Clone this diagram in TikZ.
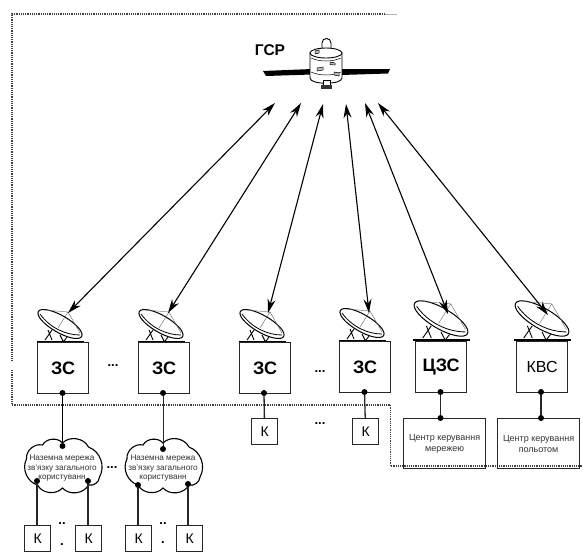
\documentclass[tikz,border=0pt]{standalone}
\usepackage{fontspec}
\setmainfont{Liberation Sans}
\usetikzlibrary{arrows.meta}
\tikzset{
  x=1pt,y=-1pt,
  boxn/.style={draw=black!85,line width=1.2pt,inner sep=0pt,anchor=north west,align=center},
  bigbox/.style={boxn,minimum width=51pt,minimum height=51pt,font=\bfseries\fontsize{18}{18}\selectfont},
  kbox/.style={boxn,minimum width=26pt,minimum height=26pt,font=\fontsize{14}{14}\selectfont},
  ctr/.style={boxn,minimum width=82pt,minimum height=50pt,font=\fontsize{9}{11}\selectfont,text=black!80},
  pt/.style={circle,fill=black,inner sep=0pt,minimum size=6pt},
  wire/.style={line width=1.3pt,draw=black!85},
  fence/.style={line width=1.3pt,dash pattern=on 1.2pt off 1pt,draw=black!75},
  link/.style={line width=1.1pt,{Stealth[length=14pt,width=8pt]}-{Stealth[length=14pt,width=8pt]}},
  cloudt/.style={align=center,font=\fontsize{8.2}{9.5}\selectfont,inner sep=0pt,text=black!80},
  dots/.style={font=\bfseries\fontsize{13}{13}\selectfont,inner sep=0pt},
  cloudshape/.pic={
    \draw[line width=1.1pt,fill=white] (-36,-8) to[bend left=55] (-20,-22) to[bend left=55] (0,-24)
      to[bend left=55] (26,-20) to[bend left=50] (37,10) to[bend left=50] (26,18)
      to[bend left=55] (0,21) to[bend left=55] (-25,18) to[bend left=50] cycle;
  },
  dish/.pic={
    \draw[line width=.9pt] (-12,6) -- (-8,16) (-8,6) -- (-15,16) (0,11) -- (3,17) (7,13) -- (4,17);
    \draw[line width=1pt,fill=white] (0,0) ellipse [x radius=25,y radius=8.5,rotate=-30];
    \draw[line width=.8pt] (-20,-10) .. controls (-10,4) and (6,11) .. (20,11);
    \draw[line width=.4pt,draw=black!60] (-16,-14) -- (8,-12) -- (20,9) (8,-12) -- (-2,4);
    \draw[line width=2pt] (-23,17.5) -- (24,17.5);
  }
}
\begin{document}
\begin{tikzpicture}
\useasboundingbox (0,0) rectangle (583,552);
\fill[white] (0,0) rectangle (583,552);
% fence
\coordinate (f0) at (397,14); \coordinate (f1) at (385,14); \coordinate (f2) at (12,14);
\coordinate (f2a) at (12,361); \coordinate (f2b) at (12,370); \coordinate (f3) at (12,405);
\coordinate (f4) at (390.5,405); \coordinate (f5) at (390.5,466); \coordinate (f6) at (583,466);
\draw[fence] (f1) -- (f2) -- (f2a);
\draw[fence] (f2b) -- (f3) -- (f4) -- (f5) -- (f6);
\draw[line width=.6pt,draw=black!30] (f0) -- (f1);
% dishes
\pic at (60,324) {dish};
\pic at (161,324) {dish};
\pic at (262,324) {dish};
\pic at (362,323) {dish};
\pic[scale=1.22] at (441,318.5) {dish};
\pic[scale=1.22] at (542,318.5) {dish};
% boxes
\node[bigbox] (b1) at (37,342) {ЗС};
\node[bigbox] (b2) at (138,342) {ЗС};
\node[bigbox] (b3) at (239,342) {ЗС};
\node[bigbox] (b4) at (339,341) {ЗС};
\node[bigbox] (b5) at (415,341) {ЦЗС};
\node[bigbox,font=\fontsize{16}{16}\selectfont] (b6) at (516,341) {КВС};
% satellite
\fill[black] (263,71) -- (312,69) -- (312,74.5) -- (266,76) -- cycle;
\fill[black] (341,69) -- (390,69) -- (388,73.5) -- (341,75) -- cycle;
\draw[line width=.9pt,fill=white] (322,50) -- (322,43) .. controls (322,37) and (331,37) .. (331,43) -- (331,50);
\draw[line width=.9pt,fill=white] (310,53) -- (310,78) .. controls (310,85) and (342,85) .. (342,78) -- (342,53);
\draw[line width=.9pt,fill=white] (326,53) ellipse [x radius=16,y radius=5];
\draw[line width=.5pt] (311,58) .. controls (320,62) and (332,62) .. (341,58);
\draw[line width=.5pt] (311,72) .. controls (320,76) and (332,76) .. (341,72);
\draw[line width=.5pt,fill=black!25] (315,51) -- (319,50) -- (319,53) -- (315,54) -- cycle;
\draw[line width=.5pt,fill=black!25] (317,68) -- (323,67) -- (323,70) -- (317,71) -- cycle;
\draw[line width=.5pt,fill=black!25] (330,62) -- (335,63) -- (335,65) -- (330,64.5) -- cycle;
\draw[line width=.5pt,fill=black!25] (334,72) -- (339,73) -- (339,76) -- (334,75) -- cycle;
\draw[line width=.8pt,fill=white] (323,80) rectangle (330,85);
\fill[black!80] (321,85) rectangle (332,88.5);
\node[inner sep=0pt,font=\bfseries\fontsize{15.5}{16}\selectfont] (gsr) at (270,50) {ГСР};
% links
\coordinate (s1) at (275,103); \coordinate (s2) at (301,103); \coordinate (s3) at (323,104);
\coordinate (s4) at (346,104); \coordinate (s5) at (365,103); \coordinate (s6) at (378,103);
\coordinate (d1) at (68,313); \coordinate (d2) at (168,313); \coordinate (d3) at (268,313);
\coordinate (d4) at (369,313); \coordinate (d5) at (448,314); \coordinate (d6) at (548,315);
\foreach \i in {1,...,6} \draw[link] (d\i) -- (s\i);
% clouds
\pic at (62.5,467) {cloudshape};
\pic at (163,467) {cloudshape};
\node[cloudt] (t1) at (62,468.5) {Наземна мережа\\зв'язку загального\\користуванн};
\node[cloudt] (t2) at (163,468.5) {Наземна мережа\\зв'язку загального\\користуванн};
% K
\node[kbox] (k3) at (251,418) {К};
\node[kbox] (k4) at (352,418) {К};
\node[kbox] (ka) at (24,525) {К};
\node[kbox] (kb) at (75,525) {К};
\node[kbox] (kc) at (125,525) {К};
\node[kbox] (kd) at (176,525) {К};
% centres
\node[ctr] (m1) at (403,418) {Центр керування\\мережею};
\node[ctr] (m2) at (497,418) {Центр керування\\польотом};
% wires
\node[pt] (p1) at (62.5,393) {};
\node[pt] (p2) at (163,393) {};
\node[pt] (p3) at (264,393) {};
\node[pt] (p4) at (364.5,392) {};
\node[pt] (p5) at (440.5,392) {};
\node[pt] (p6) at (541,392) {};
\node[pt] (q5) at (440.5,418) {};
\node[pt] (q6) at (541,418) {};
\node[pt] (r1) at (62.5,446) {};
\node[pt] (r2) at (163,449) {};
\node[pt] (ra) at (37,481) {};
\node[pt] (rb) at (88,481) {};
\node[pt] (rc) at (138,485) {};
\node[pt] (rd) at (188,484) {};
\draw[line width=.5pt] (p1) -- (r1);
\draw[wire,line width=.8pt] (p2) -- (r2);
\draw[wire] (p3) -- (k3);
\draw[wire] (p4) -- (k4);
\draw[wire] (p5) -- (q5);
\draw[wire] (p6) -- (q6);
\draw[wire] (ra) -- (ka.north -| ra);
\draw[wire] (rb) -- (kb.north -| rb);
\draw[wire] (rc) -- (kc.north -| rc);
\draw[wire] (rd) -- (kd.north -| rd);
% dots
\node[dots] (e1) at (113,366) {...};
\node[dots] (e2) at (320,372) {...};
\node[dots] (e3) at (320,424) {...};
\node[dots] (e4) at (112,468) {...};
\node[dots] (e5) at (62,524) {..};
\node[dots] (e6) at (62,545) {.};
\node[dots] (e7) at (163,524) {..};
\node[dots] (e8) at (163,543) {.};
\end{tikzpicture}
\end{document}
